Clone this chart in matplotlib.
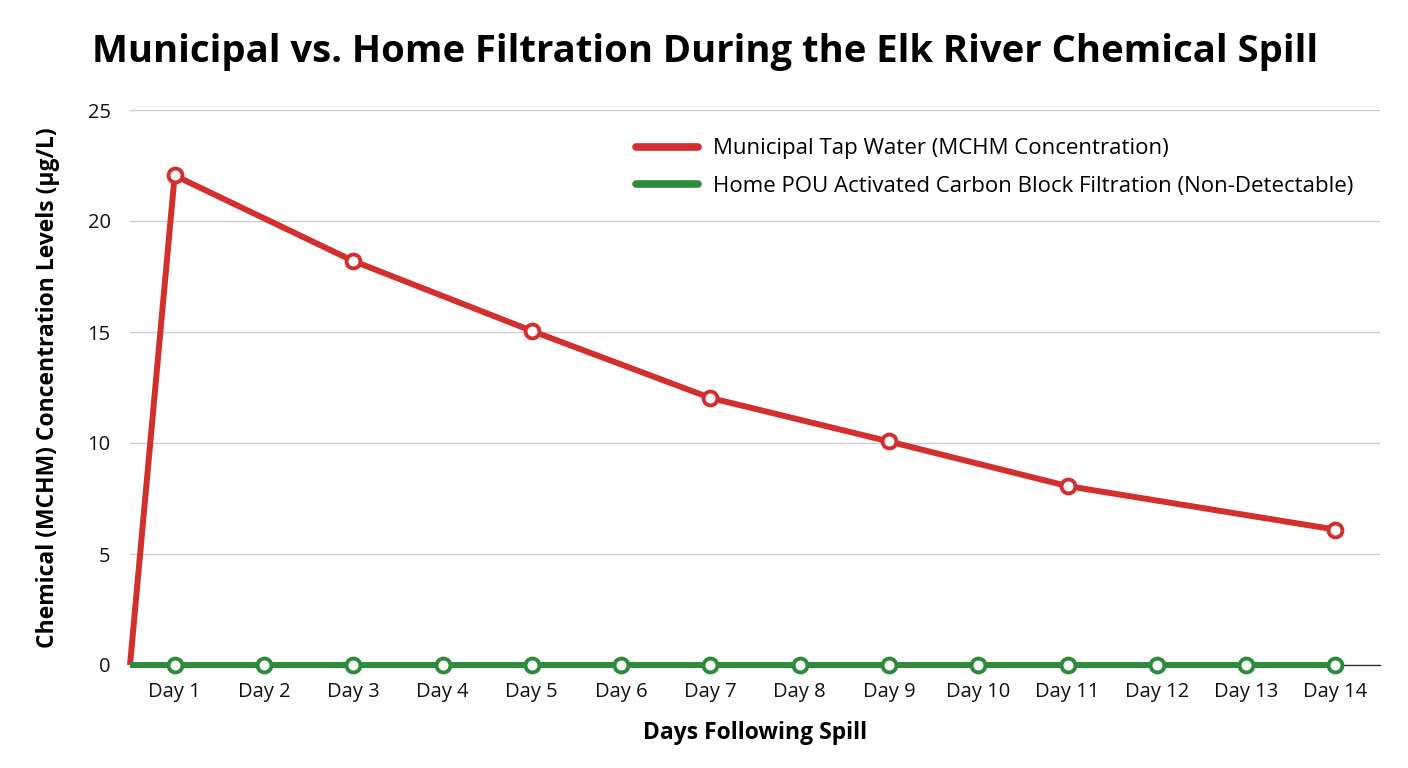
import matplotlib
matplotlib.use("Agg")
import matplotlib.pyplot as plt
import numpy as np

plt.rcParams['font.family'] = ['Open Sans', 'DejaVu Sans']

title = "Municipal vs. Home Filtration During the Elk River Chemical Spill"
days = [f"Day {i}" for i in range(1, 15)]
start_value = 0
municipal = [22.05, None, 18.2, None, 15.05, None, 12.03, None, 10.07, None, 8.06, None, None, 6.1]
home = [0] * 14
municipal_label = "Municipal Tap Water (MCHM Concentration)"
home_label = "Home POU Activated Carbon Block Filtration (Non-Detectable)"
y_ticks = [0, 5, 10, 15, 20, 25]
x_title = "Days Following Spill"
y_title = "Chemical (MCHM) Concentration Levels (µg/L)"

RED = "#D32F2F"
GREEN = "#2E8B3C"

fig = plt.figure(figsize=(14.08, 7.68), dpi=100)
ax = fig.add_axes([130/1408, 1 - 665/768, 1250/1408, 555/768])

x = np.arange(len(days))
start_x = -0.5

# municipal line (connect across gaps)
mx = [start_x] + [xi for xi, v in zip(x, municipal) if v is not None]
my = [start_value] + [v for v in municipal if v is not None]
ax.plot(mx, my, color=RED, lw=4.3, solid_capstyle='butt', solid_joinstyle='round', zorder=3,
        label=municipal_label, clip_on=False)
ax.plot(mx[1:], my[1:], ls='none', marker='o', ms=10, mfc='white', mec=RED, mew=2.8, zorder=5,
        clip_on=False)

hx = [start_x] + list(x)
hy = [start_value] + home
ax.plot(hx, hy, color=GREEN, lw=4.3, solid_capstyle='butt', zorder=4, label=home_label, clip_on=False)
ax.plot(x, home, ls='none', marker='o', ms=10, mfc='white', mec=GREEN, mew=2.8, zorder=5,
        clip_on=False)

ax.set_xlim(-0.5, len(days) - 0.5)
ax.set_ylim(0, 25)
ax.set_yticks(y_ticks)
ax.set_xticks(x)
ax.set_xticklabels(days)
ax.tick_params(axis='both', length=0, labelsize=14.5, colors='#111111')
ax.tick_params(axis='x', pad=12)
ax.tick_params(axis='y', pad=14)
ax.grid(axis='y', color='#cccccc', lw=1)
ax.set_axisbelow(True)
for s in ['left', 'right', 'top']:
    ax.spines[s].set_visible(False)
ax.spines['bottom'].set_color('#333333')
ax.spines['bottom'].set_linewidth(1)
ax.spines['bottom'].set_zorder(2)

ax.set_xlabel(x_title, fontsize=16.5, fontweight='bold', labelpad=14)
ax.set_ylabel(y_title, fontsize=16.5, fontweight='bold', labelpad=20)

leg = ax.legend(loc='upper right', bbox_to_anchor=(0.995, 0.985), frameon=False, fontsize=16,
                handlelength=2.8, handletextpad=0.7, labelspacing=0.75)
for h in leg.legend_handles:
    h.set_linewidth(5.5)
    h.set_solid_capstyle('round')

fig.text(705/1408, 1 - 52/768, title, ha='center', va='center', fontsize=27.5, fontweight='bold')

fig.savefig("out.png", dpi=100)
